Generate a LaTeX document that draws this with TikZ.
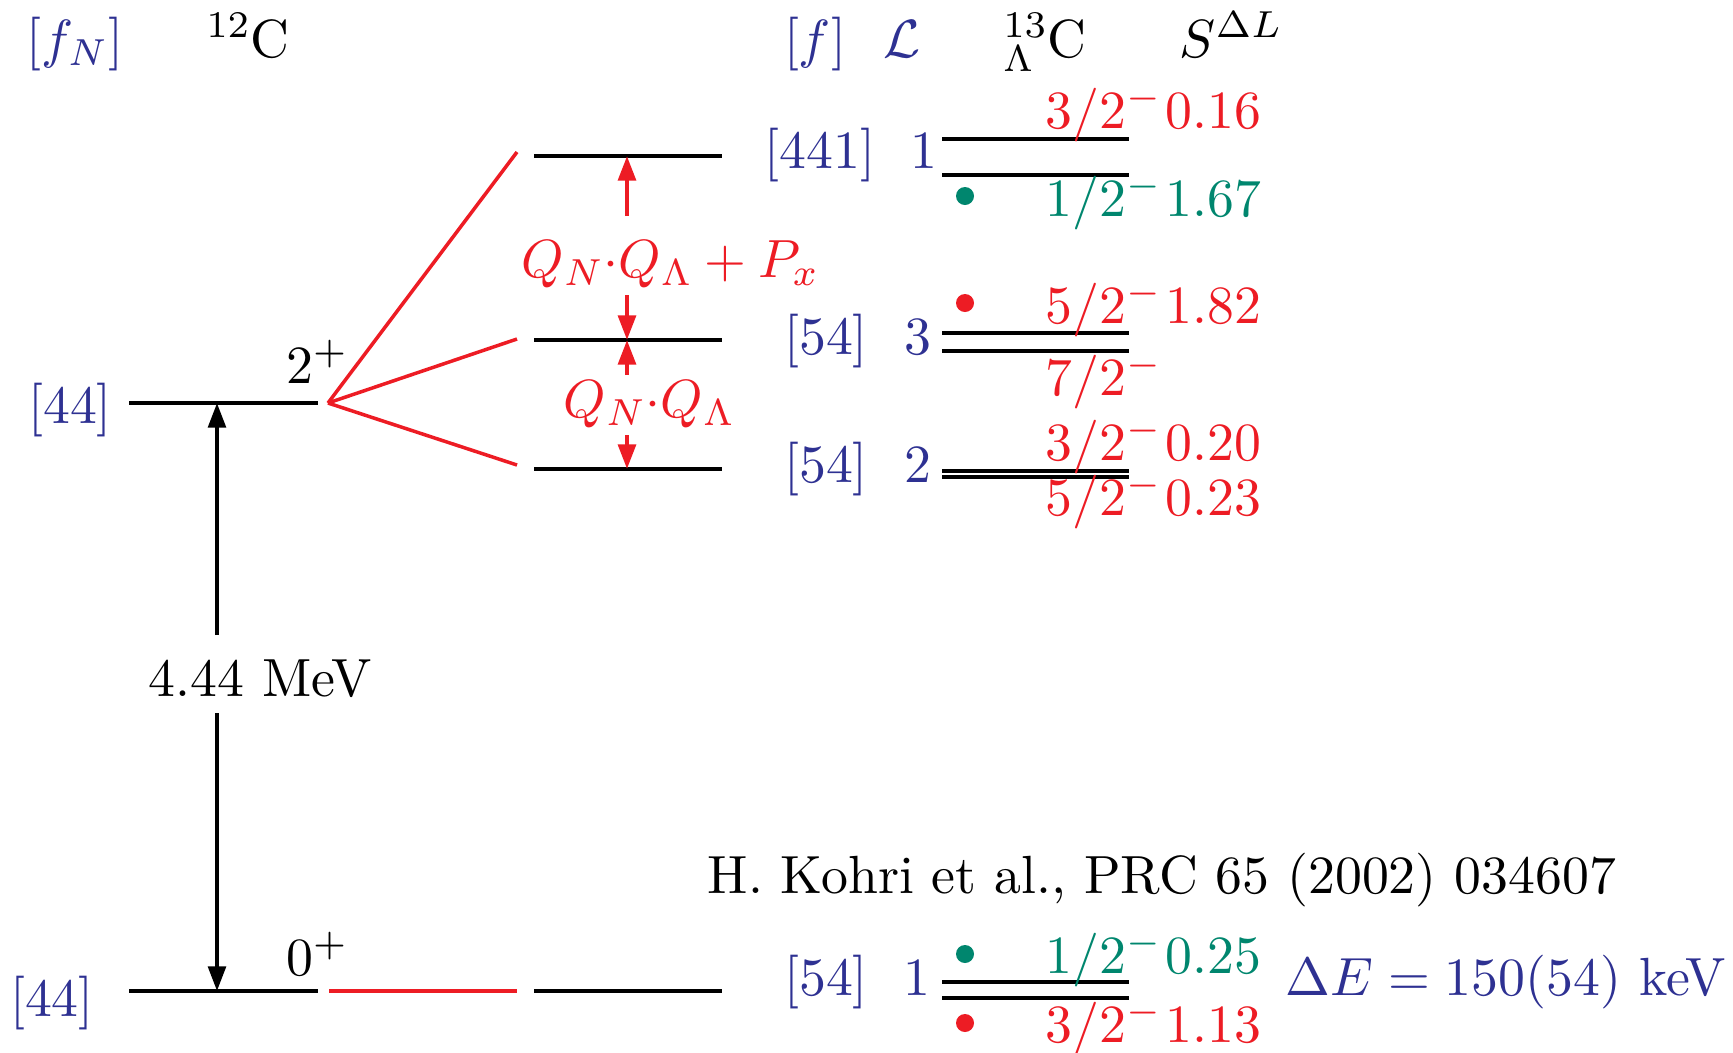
\documentclass[tikz,border=0pt]{standalone}
\usepackage{amsmath, amssymb}
\usepackage{xcolor}
\usepackage{tikz}
\usetikzlibrary{arrows.meta, positioning}

% 10pt design sizes, scaled up
\DeclareFontShape{TU}{lmr}{m}{n}{<-> "[lmroman10-regular]:mapping=tex-text;"}{}
\DeclareFontShape{OT1}{cmr}{m}{n}{<-12> cmr7 <12-> cmr10}{}
\DeclareFontShape{OML}{cmm}{m}{it}{<-12> cmmi7 <12-> cmmi10}{}
\DeclareFontShape{OMS}{cmsy}{m}{n}{<-12> cmsy7 <12-> cmsy10}{}

\definecolor{fblue}{RGB}{46,49,146}
\definecolor{sred}{RGB}{237,28,36}
\definecolor{sgreen}{RGB}{0,134,110}

\begin{document}
\begin{tikzpicture}[x=0.1mm, y=-0.1mm, font=\fontsize{15.3}{18}\selectfont,
    lvl/.style={line width=1.35pt},
    fan/.style={sred, line width=1pt},
    splitarr/.style={-{Triangle[length=7pt, width=5pt]}, line width=1.2pt},
    txt/.style={anchor=base, inner sep=0pt},
    spin/.style={anchor=base west, inner sep=0pt},
    pdot/.style={circle, inner sep=0pt, minimum size=1.8mm}]
      \useasboundingbox (0,0) rectangle (1733,1052);

      % column heads
      \node[txt, fblue] (fN) at (75,57) {$[f_N]$};
      \node[txt] (c12) at (248,57) {$^{12}$C};
      \node[txt, fblue] (fL) at (815,57) {$[f]$};
      \node[txt, fblue] (LL) at (902,57) {$\mathcal{L}$};
      \node[txt] (c13) at (1045,57) {$^{13}_{\Lambda}$C};
      \node[txt] (SL) at (1231,57) {$S^{\Delta L}$};

      % 12C levels
      \coordinate (g0a) at (129,991); \coordinate (g0b) at (318,991);
      \coordinate (g2a) at (129,403); \coordinate (g2b) at (318,403);
      \draw[lvl] (g0a) -- (g0b);
      \draw[lvl] (g2a) -- (g2b);
      \node[txt, fblue] (f44a) at (70,423) {[44]};
      \node[txt, fblue] (f44b) at (52,1016) {[44]};
      \node[txt] (jp2) at (317,383) {$2^+$};
      \node[txt] (jp0) at (317,975) {$0^+$};

      % excitation energy
      \node[txt] (mev) at (260,696) {4.44 MeV};
      \coordinate (ex0) at (217,991); \coordinate (ex2) at (217,403);
      \coordinate (mevt) at (217,635); \coordinate (mevb) at (217,713);
      \draw[splitarr, line width=1.1pt] (mevt) -- (ex2);
      \draw[splitarr, line width=1.1pt] (mevb) -- (ex0);

      % splitting by the Lambda
      \coordinate (fo) at (328,403);
      \coordinate (fa) at (517,152); \coordinate (fb) at (517,339); \coordinate (fc) at (517,465);
      \draw[fan] (fo) -- (fa);
      \draw[fan] (fo) -- (fb);
      \draw[fan] (fo) -- (fc);
      \coordinate (r0a) at (329,991); \coordinate (r0b) at (517,991);
      \draw[lvl, sred] (r0a) -- (r0b);

      \coordinate (sa1) at (534,156); \coordinate (sa2) at (722,156);
      \coordinate (sb1) at (534,340); \coordinate (sb2) at (722,340);
      \coordinate (sc1) at (534,469); \coordinate (sc2) at (722,469);
      \coordinate (sg1) at (534,991); \coordinate (sg2) at (722,991);
      \draw[lvl] (sa1) -- (sa2);
      \draw[lvl] (sb1) -- (sb2);
      \draw[lvl] (sc1) -- (sc2);
      \draw[lvl] (sg1) -- (sg2);

      \node[txt, sred] (qpx) at (670,277) {$Q_N{\cdot}Q_\Lambda+P_x$};
      \node[txt, sred] (qq) at (649,417) {$Q_N{\cdot}Q_\Lambda$};
      \coordinate (pa) at (627,156); \coordinate (pb) at (627,340); \coordinate (pc) at (627,469);
      \coordinate (qpxt) at (627,216); \coordinate (qpxb) at (627,295);
      \coordinate (qqt) at (627,375); \coordinate (qqb) at (627,435);
      \draw[splitarr, sred] (qpxt) -- (pa);
      \draw[splitarr, sred] (qpxb) -- (pb);
      \draw[splitarr, sred] (qqt) -- (pb);
      \draw[splitarr, sred] (qqb) -- (pc);

      % 13C-Lambda doublets
      \foreach \y in {139,175,333,351,471,477,982,998}
        \draw[lvl] (942,\y) -- (1129,\y);

      \node[txt, fblue] (f441) at (820,168) {[441]};
      \node[txt, fblue] (L1a) at (924,168) {1};
      \node[txt, fblue] (f54c) at (826,354) {[54]};
      \node[txt, fblue] (L3) at (918,354) {3};
      \node[txt, fblue] (f54b) at (826,482) {[54]};
      \node[txt, fblue] (L2) at (918,482) {2};
      \node[txt, fblue] (f54a) at (826,995) {[54]};
      \node[txt, fblue] (L1b) at (917,995) {1};

      \node[spin, sred] (s1) at (1045,128) {$3/2^-$\kern1.2pt0.16};
      \node[spin, sgreen] (s2) at (1045,216) {$1/2^-$\kern1.2pt1.67};
      \node[spin, sred] (s3) at (1045,323) {$5/2^-$\kern1.2pt1.82};
      \node[spin, sred] (s4) at (1045,395) {$7/2^-$};
      \node[spin, sred] (s5) at (1045,460) {$3/2^-$\kern1.2pt0.20};
      \node[spin, sred] (s6) at (1045,515) {$5/2^-$\kern1.2pt0.23};
      \node[spin, sgreen] (s7) at (1045,973) {$1/2^-$\kern1.2pt0.25};
      \node[spin, sred] (s8) at (1045,1042) {$3/2^-$\kern1.2pt1.13};

      \node[pdot, fill=sgreen] (d2) at (965,196) {};
      \node[pdot, fill=sred] (d3) at (965,303) {};
      \node[pdot, fill=sgreen] (d7) at (965,954) {};
      \node[pdot, fill=sred] (d8) at (965,1023) {};

      \node[spin] (ref) at (707,893) {H. Kohri et al., PRC 65 (2002) 034607};
      \node[spin, fblue] (dE) at (1285,995) {$\Delta E = 150(54)$ keV};
    \end{tikzpicture}
\end{document}
